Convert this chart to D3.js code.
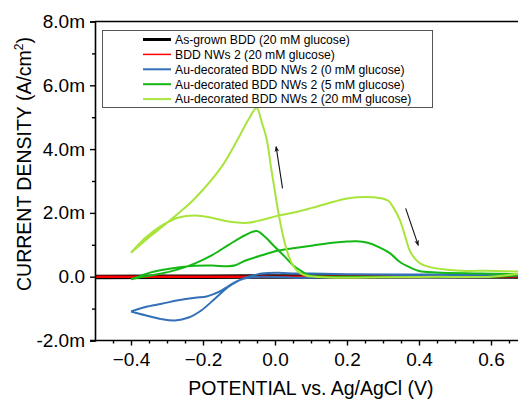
<!DOCTYPE html>
<html>
<head>
<meta charset="utf-8">
<script src="https://cdn.jsdelivr.net/npm/d3@7"></script>
<style>
  html, body { margin: 0; padding: 0; background: #fff; }
  svg { display: block; font-family: "Liberation Sans", Arial, sans-serif; }
</style>
</head>
<body>
<svg id="chart" width="518" height="401"></svg>
<script>
// Cyclic voltammograms: [potential (V vs Ag/AgCl), current density (mA/cm²)]
const asGrown20 = [[-0.5, -0.01], [-0.2, 0.0], [0.2, 0.01], [0.7, 0.01]];
const nws20 = [[-0.5, 0.0], [0.0, 0.0], [0.7, 0.01]];
const au0 = [
  [-0.4, -1.09], [-0.36, -0.95], [-0.315, -0.85], [-0.269, -0.74], [-0.222, -0.66],
  [-0.19, -0.62], [-0.165, -0.52], [-0.148, -0.43], [-0.13, -0.3], [-0.111, -0.17],
  [-0.09, -0.07], [-0.074, -0.03], [-0.037, 0.0], [0.009, -0.01], [0.056, -0.03],
  [0.15, -0.02], [0.3, 0.0], [0.5, 0.02], [0.7, 0.03],
  [0.6, 0.06], [0.4, 0.07], [0.2, 0.08], [0.1, 0.1], [0.056, 0.1], [0.009, 0.12],
  [-0.037, 0.1], [-0.06, 0.04], [-0.083, -0.03], [-0.105, -0.15], [-0.13, -0.32],
  [-0.167, -0.69], [-0.204, -1.05], [-0.24, -1.28], [-0.278, -1.37], [-0.315, -1.33],
  [-0.36, -1.21], [-0.4, -1.09]
];
const au5 = [
  [-0.4, -0.08], [-0.37, 0.04], [-0.35, 0.12], [-0.315, 0.21], [-0.27, 0.29],
  [-0.222, 0.34], [-0.176, 0.35], [-0.13, 0.33], [-0.11, 0.36], [-0.083, 0.5],
  [-0.037, 0.67], [0.009, 0.82], [0.056, 0.9], [0.106, 0.98], [0.167, 1.07],
  [0.2, 1.1], [0.227, 1.11], [0.255, 1.07], [0.29, 0.92], [0.32, 0.73],
  [0.347, 0.46], [0.375, 0.29], [0.40, 0.18], [0.449, 0.13], [0.57, 0.1], [0.7, 0.07],
  [0.6, 0.0], [0.4, -0.01], [0.2, 0.0], [0.13, 0.01], [0.093, 0.05], [0.07, 0.2],
  [0.05, 0.36], [0.028, 0.62], [0.0, 0.93], [-0.028, 1.25], [-0.051, 1.43],
  [-0.083, 1.3], [-0.13, 0.99], [-0.176, 0.67], [-0.222, 0.42], [-0.269, 0.23],
  [-0.315, 0.1], [-0.36, 0.01], [-0.4, -0.08]
];
const au20 = [
  [-0.4, 0.75], [-0.36, 1.22], [-0.315, 1.6], [-0.27, 1.85], [-0.222, 1.92],
  [-0.176, 1.85], [-0.13, 1.73], [-0.075, 1.69], [-0.037, 1.78], [0.008, 1.91],
  [0.056, 2.02], [0.10, 2.15], [0.153, 2.32], [0.2, 2.45], [0.227, 2.49],
  [0.29, 2.47], [0.315, 2.38], [0.33, 2.15], [0.347, 1.77], [0.362, 1.25],
  [0.375, 0.8], [0.39, 0.55], [0.403, 0.42], [0.43, 0.3], [0.477, 0.22],
  [0.53, 0.18], [0.588, 0.19], [0.64, 0.17], [0.7, 0.15],
  [0.6, 0.0], [0.45, 0.0], [0.3, -0.02], [0.167, -0.03], [0.11, 0.0],
  [0.085, 0.04], [0.065, 0.15], [0.05, 0.35], [0.038, 0.65], [0.025, 1.15],
  [0.012, 1.85], [0.0, 2.65], [-0.012, 3.5], [-0.023, 4.3], [-0.037, 4.85],
  [-0.051, 5.29], [-0.074, 4.92], [-0.102, 4.34], [-0.148, 3.45], [-0.222, 2.46],
  [-0.269, 1.98], [-0.315, 1.55], [-0.343, 1.3], [-0.4, 0.75]
];

const seriesNames = [
  "As-grown BDD (20 mM glucose)",
  "BDD NWs 2 (20 mM glucose)",
  "Au-decorated BDD NWs 2 (0 mM glucose)",
  "Au-decorated BDD NWs 2 (5 mM glucose)",
  "Au-decorated BDD NWs 2 (20 mM glucose)"
];
const seriesData = [asGrown20, nws20, au0, au5, au20];
const seriesColors = ["#000000", "#ff0000", "#3370b8", "#14b814", "#a9e43c"];
const seriesWidths = [4.5, 2.5, 2, 2, 2];
const legendWidths = [3, 1.5, 2, 2, 2];

const yTicks = [-2, 0, 2, 4, 6, 8];
const yMinor = [-1, 1, 3, 5, 7];
const xTicks = [-0.4, -0.2, 0.0, 0.2, 0.4, 0.6];
const xMinor = [-0.45, -0.35, -0.3, -0.25, -0.15, -0.1, -0.05, 0.05, 0.1, 0.15,
                0.25, 0.3, 0.35, 0.45, 0.5, 0.55, 0.65];

// Scan-direction arrows [from, to] in data coordinates
const arrows = [
  [[0.021, 2.77], [0.003, 4.08]],
  [[0.363, 2.14], [0.398, 0.98]]
];

const svg = d3.select("#chart");
const x = d3.scaleLinear().domain([-0.5, 0.675]).range([95, 518]);
const y = d3.scaleLinear().domain([-2, 8]).range([340.5, 21.5]);

const line = d3.line()
  .x(d => x(d[0])).y(d => y(d[1]))
  .curve(d3.curveCatmullRom.alpha(0.5));

svg.append("clipPath").attr("id", "plotClip")
  .append("rect").attr("x", 95).attr("y", 21).attr("width", 423).attr("height", 320);

const plot = svg.append("g").attr("clip-path", "url(#plotClip)");
seriesData.forEach((data, i) => {
  plot.append("path")
    .attr("d", line(data))
    .attr("fill", "none")
    .attr("stroke", seriesColors[i])
    .attr("stroke-width", seriesWidths[i])
    .attr("stroke-linejoin", "round");
});

// arrows
const defs = svg.append("defs");
defs.append("marker").attr("id", "arrowHead")
  .attr("viewBox", "0 0 10 10").attr("refX", 9).attr("refY", 5)
  .attr("markerWidth", 6).attr("markerHeight", 7).attr("orient", "auto")
  .attr("markerUnits", "userSpaceOnUse")
  .append("path").attr("d", "M0,1 L10,5 L0,9 L3,5 Z").attr("fill", "#111");
arrows.forEach(a => {
  svg.append("line")
    .attr("x1", x(a[0][0])).attr("y1", y(a[0][1]))
    .attr("x2", x(a[1][0])).attr("y2", y(a[1][1]))
    .attr("stroke", "#111").attr("stroke-width", 1.1)
    .attr("marker-end", "url(#arrowHead)");
});

// top frame
svg.append("line").attr("x1", 95).attr("x2", 518).attr("y1", 21.5).attr("y2", 21.5)
  .attr("stroke", "#000").attr("stroke-width", 1.6);

// axes
const fmtY = v => v === 0 ? "0.0" : v.toFixed(1) + "m";
const yAxis = svg.append("g").attr("transform", "translate(95,0)")
  .call(d3.axisLeft(y).tickValues(yTicks).tickFormat(fmtY).tickSize(5).tickPadding(5));
const yAxisMinor = svg.append("g").attr("transform", "translate(95,0)")
  .call(d3.axisLeft(y).tickValues(yMinor).tickFormat("").tickSize(3));
const xAxis = svg.append("g").attr("transform", "translate(0,340.5)")
  .call(d3.axisBottom(x).tickValues(xTicks).tickFormat(d3.format(".1f")).tickSize(5).tickPadding(7));
const xAxisMinor = svg.append("g").attr("transform", "translate(0,340.5)")
  .call(d3.axisBottom(x).tickValues(xMinor).tickFormat("").tickSize(3));

[yAxis, yAxisMinor, xAxis, xAxisMinor].forEach(g => {
  g.select(".domain").attr("stroke", "#000").attr("stroke-width", 1.6);
  g.selectAll(".tick line").attr("stroke", "#000").attr("stroke-width", 1.4);
  g.selectAll(".tick text").attr("fill", "#000").attr("font-size", 19)
    .attr("font-family", "Liberation Sans, Arial, sans-serif");
});
xAxis.select(".domain").attr("d", "M90,0H518");
xAxisMinor.select(".domain").remove();
yAxisMinor.select(".domain").remove();

// axis titles
svg.append("text")
  .attr("x", 311).attr("y", 395).attr("text-anchor", "middle")
  .attr("font-size", 19.5).attr("fill", "#000")
  .text("POTENTIAL vs. Ag/AgCl (V)");

const yTitle = svg.append("text")
  .attr("transform", "translate(31,164) rotate(-90)")
  .attr("text-anchor", "middle").attr("font-size", 19.5).attr("fill", "#000");
yTitle.append("tspan").text("CURRENT DENSITY (A/cm");
yTitle.append("tspan").attr("dy", -8).attr("font-size", 12).text("2");
yTitle.append("tspan").attr("dy", 8).text(")");

// legend
const legend = svg.append("g");
legend.append("rect")
  .attr("x", 102.5).attr("y", 30.5).attr("width", 330).attr("height", 77)
  .attr("fill", "#fff").attr("stroke", "#555").attr("stroke-width", 1);
seriesNames.forEach((name, i) => {
  const cy = 39.5 + i * 14.9;
  legend.append("line").attr("x1", 143).attr("x2", 171).attr("y1", cy).attr("y2", cy)
    .attr("stroke", seriesColors[i]).attr("stroke-width", legendWidths[i]);
  legend.append("text").attr("x", 175).attr("y", cy + 4.3)
    .attr("font-size", 12.2).attr("fill", "#000").text(name);
});
</script>
</body>
</html>
